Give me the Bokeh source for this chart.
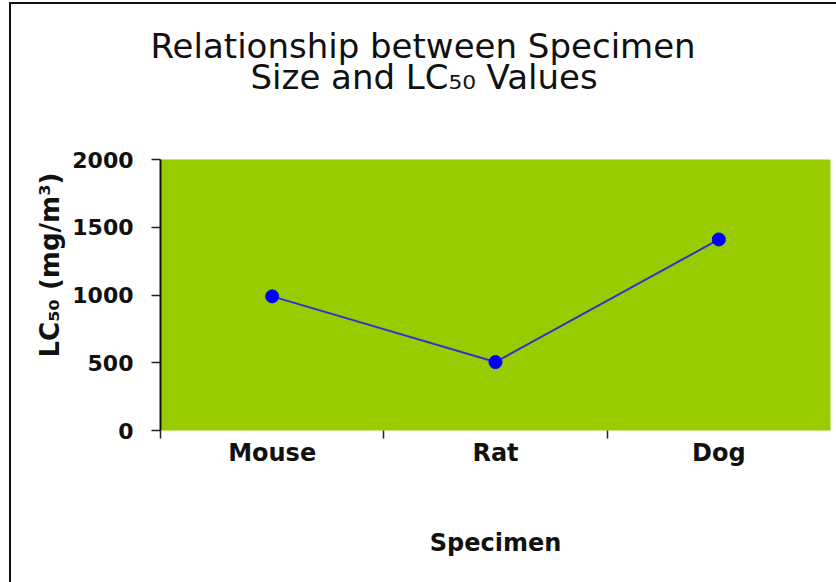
from bokeh.plotting import figure
from bokeh.models import ColumnDataSource, FixedTicker, Title, Range1d
from bokeh.embed import file_html
from bokeh.resources import INLINE

# ---- data ----
specimens = ["Mouse", "Rat", "Dog"]
lc50_values = [990, 505, 1410]
y_ticks = [0, 500, 1000, 1500, 2000]
title_line1 = "Relationship between Specimen"
title_line2 = "Size and LC\u2085\u2080 Values"
y_label = "LC\u2085\u2080 (mg/m\u00b3)"
x_label = "Specimen"

positions = [i + 0.5 for i in range(len(specimens))]
src = ColumnDataSource(dict(x=positions, y=lc50_values, name=specimens))

FONT = "DejaVu Sans"

p = figure(width=836, height=582, output_backend="svg", toolbar_location=None,
           x_range=Range1d(0, len(specimens)), y_range=Range1d(0, 2000),
           min_border_left=160, min_border_right=6, min_border_top=159,
           min_border_bottom=152, title=None)
p.background_fill_color = "#99cc00"
p.border_fill_alpha = 0.0
p.outline_line_color = None
p.xgrid.grid_line_color = None
p.ygrid.grid_line_color = None
# picture border on the left and top edges, drawn behind the transparent canvas border
p.styles = {
    "background-color": "white",
    "background-image": "linear-gradient(#111111, #111111), linear-gradient(#111111, #111111)",
    "background-size": "2px 100%, 100% 2px",
    "background-position": "9px 2px, 9px 2px",
    "background-repeat": "no-repeat, no-repeat",
}

p.line("x", "y", source=src, line_color="#3333cc", line_width=2)
p.scatter("x", "y", source=src, size=13, fill_color="#0000ff", line_color="#0000ff")

# x axis
xa = p.xaxis[0]
xa.ticker = FixedTicker(ticks=positions, minor_ticks=list(range(len(specimens))))
xa.major_label_overrides = {pos: name for pos, name in zip(positions, specimens)}
xa.major_tick_line_color = None
xa.major_tick_in = 0
xa.major_tick_out = 0
xa.minor_tick_line_color = "#222222"
xa.minor_tick_line_width = 1.5
xa.minor_tick_in = 0
xa.minor_tick_out = 8
xa.axis_line_color = None
xa.major_label_standoff = 0
xa.major_label_text_font = FONT
xa.major_label_text_font_size = "24px"
xa.major_label_text_font_style = "bold"
xa.major_label_text_color = "#111111"
xa.axis_label = x_label
xa.axis_label_standoff = 59
xa.axis_label_text_font = FONT
xa.axis_label_text_font_size = "24px"
xa.axis_label_text_font_style = "bold"
xa.axis_label_text_color = "#111111"

# y axis
ya = p.yaxis[0]
ya.ticker = FixedTicker(ticks=y_ticks)
ya.major_tick_in = 0
ya.major_tick_out = 9
ya.major_tick_line_color = "#222222"
ya.major_tick_line_width = 1.5
ya.minor_tick_line_color = None
ya.axis_line_color = "#111111"
ya.axis_line_width = 2
ya.major_label_standoff = 18
ya.major_label_text_font = FONT
ya.major_label_text_font_size = "22px"
ya.major_label_text_font_style = "bold"
ya.major_label_text_color = "#111111"

p.add_layout(Title(text=y_label, align="left", offset=73, standoff=10,
                   text_font=FONT, text_font_size="26px", text_font_style="bold",
                   text_color="#111111"), "left")

# titles (first added is closest to the plot); a blank spacer keeps the gap
TSZ = "34px"
p.add_layout(Title(text=" ", align="left", standoff=21,
                   text_font=FONT, text_font_size=TSZ), "above")
p.add_layout(Title(text=title_line2, align="left", offset=90, standoff=0,
                   text_font=FONT, text_font_size=TSZ, text_font_style="normal",
                   text_color="#111111"), "above")
p.add_layout(Title(text=title_line1, align="left", offset=-10, standoff=-22,
                   text_font=FONT, text_font_size=TSZ, text_font_style="normal",
                   text_color="#111111"), "above")

open("out.html", "w").write(file_html(p, INLINE))
